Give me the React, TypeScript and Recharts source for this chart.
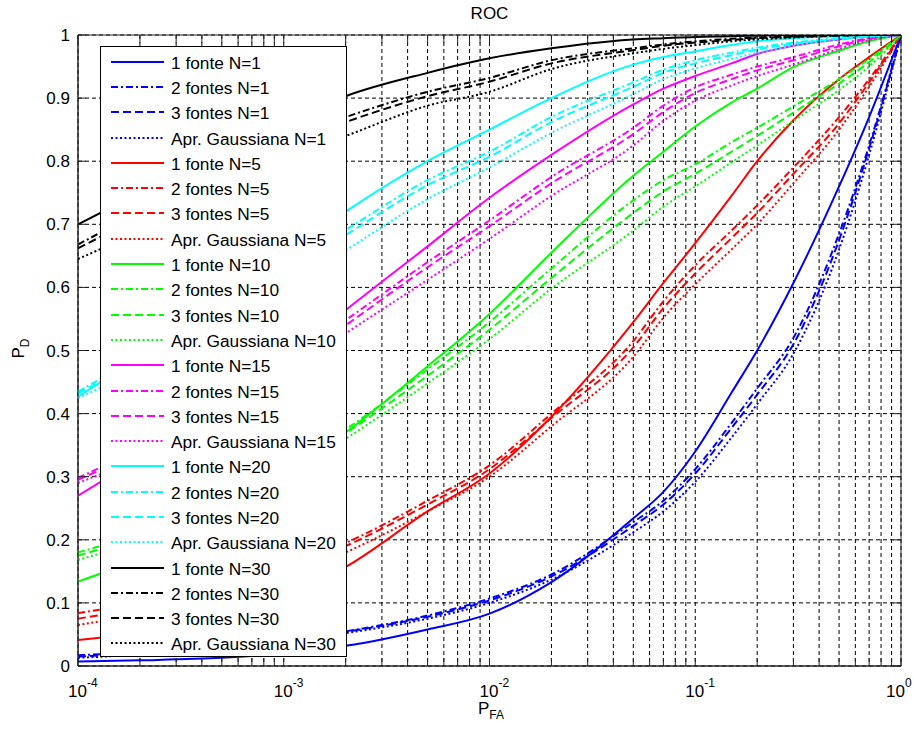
import React from 'react';
import { LineChart, Line, XAxis, YAxis, CartesianGrid, Legend, ReferenceArea } from 'recharts';

// P_FA sample points
const PFA = [1e-4, 2e-4, 5e-4, 1e-3, 2e-3, 5e-3, 1e-2, 2e-2, 5e-2, 0.07, 0.1, 0.15, 0.2, 0.3, 0.5, 0.7, 1];

// N=1 (blue)
const n1_f1 = [0.007, 0.009, 0.013, 0.02, 0.032, 0.058, 0.083, 0.133, 0.234, 0.276, 0.34, 0.433, 0.5, 0.607, 0.76, 0.87, 1];
const n1_f2 = [0.017, 0.022, 0.031, 0.041, 0.055, 0.08, 0.107, 0.145, 0.228, 0.262, 0.312, 0.385, 0.44, 0.52, 0.685, 0.825, 1];
const n1_f3 = [0.015, 0.02, 0.03, 0.04, 0.054, 0.078, 0.104, 0.142, 0.222, 0.256, 0.305, 0.377, 0.43, 0.51, 0.675, 0.82, 1];
const n1_g = [0.013, 0.018, 0.028, 0.038, 0.052, 0.075, 0.1, 0.137, 0.212, 0.245, 0.292, 0.362, 0.415, 0.495, 0.66, 0.81, 1];
// N=5 (red)
const n5_f1 = [0.041, 0.053, 0.078, 0.11, 0.157, 0.245, 0.305, 0.395, 0.545, 0.607, 0.67, 0.745, 0.8, 0.865, 0.93, 0.965, 1];
const n5_f2 = [0.084, 0.1, 0.128, 0.158, 0.195, 0.262, 0.318, 0.4, 0.515, 0.578, 0.635, 0.69, 0.73, 0.79, 0.87, 0.93, 1];
const n5_f3 = [0.075, 0.092, 0.12, 0.15, 0.19, 0.256, 0.312, 0.393, 0.505, 0.567, 0.622, 0.678, 0.718, 0.78, 0.86, 0.925, 1];
const n5_g = [0.065, 0.082, 0.11, 0.14, 0.18, 0.245, 0.3, 0.38, 0.49, 0.552, 0.605, 0.66, 0.7, 0.765, 0.85, 0.918, 1];
// N=10 (green)
const n10_f1 = [0.134, 0.17, 0.235, 0.3, 0.37, 0.475, 0.558, 0.655, 0.777, 0.815, 0.855, 0.893, 0.915, 0.949, 0.975, 0.99, 1];
const n10_f2 = [0.18, 0.21, 0.262, 0.315, 0.375, 0.47, 0.545, 0.63, 0.738, 0.77, 0.795, 0.83, 0.853, 0.887, 0.93, 0.962, 1];
const n10_f3 = [0.175, 0.205, 0.255, 0.308, 0.369, 0.46, 0.533, 0.615, 0.718, 0.752, 0.78, 0.815, 0.84, 0.877, 0.923, 0.957, 1];
const n10_g = [0.168, 0.198, 0.245, 0.298, 0.36, 0.448, 0.518, 0.598, 0.69, 0.728, 0.76, 0.798, 0.825, 0.864, 0.913, 0.95, 1];
// N=15 (magenta)
const n15_f1 = [0.27, 0.33, 0.41, 0.485, 0.564, 0.665, 0.742, 0.81, 0.89, 0.915, 0.935, 0.955, 0.97, 0.983, 0.993, 0.998, 1];
const n15_f2 = [0.298, 0.345, 0.415, 0.48, 0.548, 0.64, 0.706, 0.775, 0.853, 0.888, 0.917, 0.937, 0.95, 0.965, 0.985, 0.995, 1];
const n15_f3 = [0.295, 0.34, 0.408, 0.472, 0.54, 0.632, 0.697, 0.765, 0.843, 0.878, 0.908, 0.93, 0.944, 0.96, 0.982, 0.994, 1];
const n15_g = [0.29, 0.33, 0.395, 0.46, 0.527, 0.612, 0.677, 0.745, 0.825, 0.864, 0.896, 0.92, 0.935, 0.953, 0.978, 0.992, 1];
// N=20 (cyan)
const n20_f1 = [0.427, 0.49, 0.58, 0.65, 0.72, 0.8, 0.85, 0.9, 0.953, 0.965, 0.974, 0.984, 0.99, 0.995, 0.998, 1, 1];
const n20_f2 = [0.435, 0.49, 0.565, 0.63, 0.691, 0.77, 0.815, 0.87, 0.925, 0.945, 0.96, 0.972, 0.98, 0.988, 0.995, 0.998, 1];
const n20_f3 = [0.432, 0.485, 0.558, 0.622, 0.683, 0.762, 0.807, 0.862, 0.918, 0.94, 0.955, 0.968, 0.977, 0.986, 0.994, 0.998, 1];
const n20_g = [0.425, 0.47, 0.54, 0.6, 0.659, 0.74, 0.79, 0.845, 0.906, 0.93, 0.947, 0.962, 0.972, 0.983, 0.993, 0.997, 1];
// N=30 (black)
const n30_f1 = [0.7, 0.75, 0.815, 0.86, 0.903, 0.94, 0.963, 0.979, 0.993, 0.995, 0.997, 0.998, 0.999, 1, 1, 1, 1];
const n30_f2 = [0.668, 0.72, 0.79, 0.835, 0.87, 0.91, 0.932, 0.96, 0.979, 0.985, 0.99, 0.994, 0.996, 0.998, 1, 1, 1];
const n30_f3 = [0.662, 0.712, 0.78, 0.825, 0.862, 0.903, 0.926, 0.955, 0.976, 0.983, 0.988, 0.992, 0.995, 0.997, 0.999, 1, 1];
const n30_g = [0.645, 0.69, 0.76, 0.805, 0.84, 0.888, 0.91, 0.946, 0.971, 0.978, 0.984, 0.99, 0.993, 0.996, 0.999, 1, 1];

const X_TICKS = [
  1e-4, 2e-4, 3e-4, 4e-4, 5e-4, 6e-4, 7e-4, 8e-4, 9e-4,
  1e-3, 2e-3, 3e-3, 4e-3, 5e-3, 6e-3, 7e-3, 8e-3, 9e-3,
  1e-2, 2e-2, 3e-2, 4e-2, 5e-2, 6e-2, 7e-2, 8e-2, 9e-2,
  0.1, 0.2, 0.3, 0.4, 0.5, 0.6, 0.7, 0.8, 0.9, 1,
];
const X_DECADES = [1e-4, 1e-3, 1e-2, 1e-1, 1];
const X_DECADE_EXP = ['-4', '-3', '-2', '-1', '0'];
const Y_TICKS = [0, 0.1, 0.2, 0.3, 0.4, 0.5, 0.6, 0.7, 0.8, 0.9, 1];
const Y_LABELS = ['0', '0.1', '0.2', '0.3', '0.4', '0.5', '0.6', '0.7', '0.8', '0.9', '1'];

const GROUP_NS = ['1', '5', '10', '15', '20', '30'];
const GROUP_COLORS = ['#0000FF', '#FF0000', '#00FF00', '#FF00FF', '#00FFFF', '#000000'];
const STYLE_NAMES = ['1 fonte', '2 fontes', '3 fontes', 'Apr. Gaussiana'];
const STYLE_DASH = [undefined, '7 3 2 3', '8 4', '2 2.5'];
const GROUP_DATA = [
  [n1_f1, n1_f2, n1_f3, n1_g],
  [n5_f1, n5_f2, n5_f3, n5_g],
  [n10_f1, n10_f2, n10_f3, n10_g],
  [n15_f1, n15_f2, n15_f3, n15_g],
  [n20_f1, n20_f2, n20_f3, n20_g],
  [n30_f1, n30_f2, n30_f3, n30_g],
];

type Series = { key: string; name: string; color: string; dash?: string; values: number[] };
const SERIES: Series[] = [];
GROUP_DATA.forEach((grp, gi) => {
  grp.forEach((vals, si) => {
    SERIES.push({
      key: `s${gi}_${si}`,
      name: `${STYLE_NAMES[si]} N=${GROUP_NS[gi]}`,
      color: GROUP_COLORS[gi],
      dash: STYLE_DASH[si],
      values: vals,
    });
  });
});

const ROWS = PFA.map((p, i) => {
  const row: Record<string, number> = { pfa: p };
  SERIES.forEach((s) => {
    row[s.key] = s.values[i];
  });
  return row;
});

// layout
const W = 914;
const H = 730;
const PLOT_LEFT = 78;
const PLOT_RIGHT = 901;
const PLOT_TOP = 35;
const PLOT_BOTTOM = 666;
const TICK = 8;
const FONT = "'Liberation Sans', Arial, Helvetica, sans-serif";
const AXIS = '#262626';

const XTick = (props: any) => {
  const { x, y, payload } = props;
  const v = payload.value;
  const idx = X_DECADES.findIndex((d) => Math.abs(d - v) / d < 1e-6);
  const last = idx === X_DECADES.length - 1;
  return (
    <g>
      <line x1={x} x2={x} y1={y} y2={y - TICK} stroke={AXIS} strokeWidth={1} />
      <line x1={x} x2={x} y1={PLOT_TOP} y2={PLOT_TOP + TICK} stroke={AXIS} strokeWidth={1} />
      {idx >= 0 && (
        <text x={last ? x - 15 : x - 10} y={y + 31} fontSize={17} fontFamily={FONT} fill="#000">
          10
          <tspan dy={-10} fontSize={12}>
            {X_DECADE_EXP[idx]}
          </tspan>
        </text>
      )}
    </g>
  );
};

const YTick = (props: any) => {
  const { x, y, payload } = props;
  const v = payload.value;
  const idx = Y_TICKS.findIndex((t) => Math.abs(t - v) < 1e-9);
  return (
    <g>
      <line x1={x} x2={x + TICK} y1={y} y2={y} stroke={AXIS} strokeWidth={1} />
      <line x1={PLOT_RIGHT - TICK} x2={PLOT_RIGHT} y1={y} y2={y} stroke={AXIS} strokeWidth={1} />
      <text x={x - 8} y={y + 6} textAnchor="end" fontSize={17} fontFamily={FONT} fill="#000">
        {idx >= 0 ? Y_LABELS[idx] : ''}
      </text>
    </g>
  );
};

const LegendBox = () => (
  <div
    style={{
      width: 245,
      height: 607,
      paddingTop: 2,
      border: '1px solid #000',
      background: '#fff',
      boxSizing: 'content-box',
    }}
  >
    {SERIES.map((s) => (
      <div key={s.key} style={{ height: 25.3, display: 'flex', alignItems: 'center' }}>
        <svg width={63} height={10} style={{ flex: 'none', display: 'block' }}>
          <line x1={10} x2={63} y1={5} y2={5} stroke={s.color} strokeWidth={2} strokeDasharray={s.dash} />
        </svg>
        <span
          style={{
            marginLeft: 7,
            fontFamily: FONT,
            fontSize: 17.3,
            lineHeight: '20px',
            color: '#000',
            whiteSpace: 'nowrap',
            position: 'relative',
            top: 1,
          }}
        >
          {s.name}
        </span>
      </div>
    ))}
  </div>
);

export default function App() {
  return (
    <div style={{ position: 'absolute', left: 0, top: 0, width: W, height: H, background: '#fff' }}>
      <LineChart
        width={W}
        height={H}
        data={ROWS}
        margin={{ top: PLOT_TOP, right: W - PLOT_RIGHT, left: 18, bottom: 24 }}
      >
        <CartesianGrid stroke="#000" strokeWidth={1} strokeDasharray="4 3" />
        <XAxis
          dataKey="pfa"
          type="number"
          scale="log"
          domain={[1e-4, 1]}
          allowDataOverflow
          ticks={X_TICKS}
          interval={0}
          height={40}
          tickSize={0}
          tickMargin={0}
          axisLine={{ stroke: AXIS }}
          tick={<XTick />}
        />
        <YAxis
          type="number"
          domain={[0, 1]}
          allowDataOverflow
          ticks={Y_TICKS}
          interval={0}
          width={60}
          tickSize={0}
          tickMargin={0}
          axisLine={{ stroke: AXIS }}
          tick={<YTick />}
        />
        {SERIES.map((s) => (
          <Line
            key={s.key}
            dataKey={s.key}
            name={s.name}
            type="monotone"
            stroke={s.color}
            strokeWidth={2}
            strokeDasharray={s.dash}
            dot={false}
            activeDot={false}
            isAnimationActive={false}
          />
        ))}
        <ReferenceArea x1={1e-4} x2={1} y1={0} y2={1} fill="none" stroke={AXIS} strokeWidth={1} />
        <Legend
          layout="vertical"
          align="center"
          verticalAlign="middle"
          content={<LegendBox />}
          wrapperStyle={{ position: 'absolute', left: 100, top: 46, width: 247, height: 611, margin: 0, padding: 0 }}
        />
        <text x={(PLOT_LEFT + PLOT_RIGHT) / 2} y={19} textAnchor="middle" fontSize={17} fontFamily={FONT} fill="#000">
          ROC
        </text>
        <text x={PLOT_LEFT + 400} y={714} fontSize={17} fontFamily={FONT} fill="#000">
          P
          <tspan dy={5} fontSize={12}>
            FA
          </tspan>
        </text>
        <text
          x={24}
          y={(PLOT_TOP + PLOT_BOTTOM) / 2 + 8}
          transform={`rotate(-90 24 ${(PLOT_TOP + PLOT_BOTTOM) / 2 + 8})`}
          fontSize={17}
          fontFamily={FONT}
          fill="#000"
        >
          P
          <tspan dy={5} fontSize={12}>
            D
          </tspan>
        </text>
      </LineChart>
    </div>
  );
}
